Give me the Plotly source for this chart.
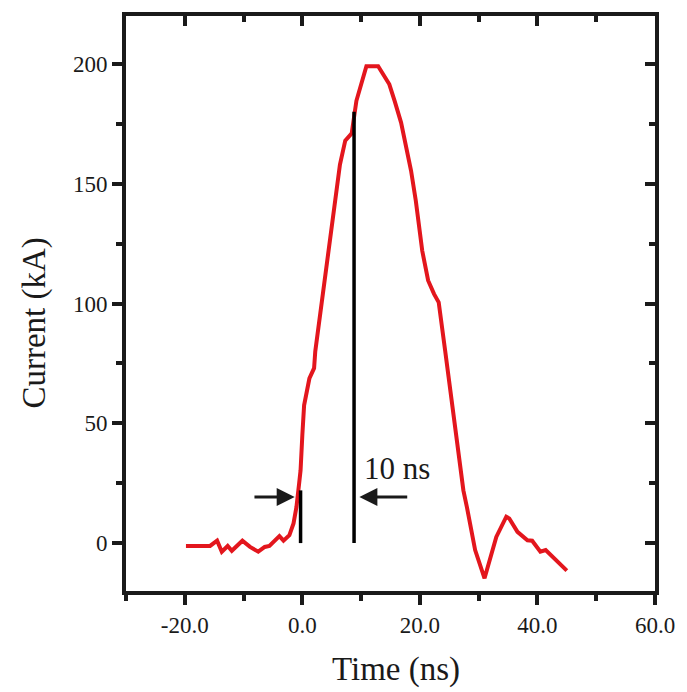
import plotly.graph_objects as go

# --- data ---
time_ns = [-19.8, -15.7, -14.5, -13.7, -12.7, -12.0, -10.2, -8.9, -7.5, -6.4, -5.6,
           -3.9, -3.2, -2.2, -1.5, -1.0, -0.55, -0.3, 0.0, 0.3, 1.2, 2.0, 2.2,
           6.4, 7.3, 8.4, 9.2, 10.9, 12.9, 14.8, 15.7, 16.8, 18.5, 19.3, 20.4,
           21.4, 22.4, 23.2, 24.3, 27.4, 28.0, 29.4, 31.0, 33.0, 34.7, 35.2,
           36.6, 38.3, 39.1, 39.7, 40.5, 41.4, 45.0]
current_kA = [-1.2, -1.2, 1.0, -3.6, -1.2, -3.2, 1.0, -1.6, -3.6, -1.6, -1.2,
              2.9, 1.0, 3.3, 8.2, 15.1, 24.8, 30.4, 45.0, 57.5, 68.7, 73.0, 80.0,
              158.0, 168.0, 171.0, 184.6, 199.0, 199.0, 191.5, 184.6, 175.5, 155.4, 143.0, 122.0,
              109.6, 104.0, 100.5, 80.3, 22.0, 15.0, -2.9, -14.7, 2.6, 11.0, 10.3,
              4.7, 1.2, 1.0, -1.2, -3.6, -2.9, -11.5]

marker_t = [-0.3, 8.8]          # vertical markers (ns)
marker_top = [22.0, 180.0]      # marker heights (kA)
marker_bottom = [0.0, 0.0]

arrow_level = 19.2
left_arrow = (-8.4, -1.3)       # tail, head (ns)
right_arrow = (18.1, 9.7)
label_text = "10 ns"
label_pos = (10.2, 31.0)

x_range = [-30, 60]
y_range = [-20, 220]
x_tick_vals = [-20, 0, 20, 40, 60]
x_tick_text = ["-20.0", "0.0", "20.0", "40.0", "60.0"]
y_tick_vals = [0, 50, 100, 150, 200]
y_tick_text = ["0", "50", "100", "150", "200"]

FONT = "Liberation Serif"
INK = "#1a1a1a"
RED = "#e3161d"

fig = go.Figure()
fig.add_trace(go.Scatter(x=time_ns, y=current_kA, mode="lines",
                         line=dict(color=RED, width=4), showlegend=False))
for t, lo, hi in zip(marker_t, marker_bottom, marker_top):
    fig.add_trace(go.Scatter(x=[t, t], y=[lo, hi], mode="lines",
                             line=dict(color="black", width=3.5), showlegend=False))
# dummy trace for mirrored (inside-tick) axes
fig.add_trace(go.Scatter(x=[None], y=[None], xaxis="x2", yaxis="y2",
                         showlegend=False, hoverinfo="skip"))

for tail, head in (left_arrow, right_arrow):
    fig.add_annotation(x=head, y=arrow_level, ax=tail, ay=arrow_level,
                       xref="x", yref="y", axref="x", ayref="y",
                       showarrow=True, arrowhead=2, arrowsize=1.2, arrowwidth=3,
                       arrowcolor=INK, text="")
fig.add_annotation(x=label_pos[0], y=label_pos[1], xref="x", yref="y",
                   text=label_text, showarrow=False, xanchor="left", yanchor="middle",
                   font=dict(family=FONT, size=31, color=INK))
fig.add_annotation(x=0.51, y=-0.137, xref="paper", yref="paper", text="Time (ns)",
                   showarrow=False, xanchor="center", yanchor="middle",
                   font=dict(family=FONT, size=33, color=INK))
fig.add_annotation(x=-0.173, y=0.466, xref="paper", yref="paper", text="Current (kA)",
                   showarrow=False, xanchor="center", yanchor="middle", textangle=-90,
                   font=dict(family=FONT, size=33, color=INK))

axis_common = dict(showgrid=False, zeroline=False, showline=True, linecolor=INK,
                   linewidth=4, tickcolor=INK, tickwidth=4,
                   tickfont=dict(family=FONT, size=23, color=INK))

fig.update_layout(
    width=687, height=692,
    margin=dict(l=126, r=24, t=14, b=101),
    paper_bgcolor="white", plot_bgcolor="white",
    xaxis=dict(range=x_range, tickmode="array", tickvals=x_tick_vals, ticktext=x_tick_text,
               ticks="outside", ticklen=10, mirror=True,
               minor=dict(tickmode="linear", tick0=0, dtick=10, ticks="outside",
                          ticklen=6, tickwidth=4, tickcolor=INK),
               **axis_common),
    yaxis=dict(range=y_range, tickmode="array", tickvals=y_tick_vals, ticktext=y_tick_text,
               ticks="outside", ticklen=10, mirror=True,
               minor=dict(tickmode="linear", tick0=0, dtick=25, ticks="outside",
                          ticklen=6, tickwidth=4, tickcolor=INK),
               **axis_common),
    xaxis2=dict(range=x_range, overlaying="x", side="top", anchor="y2",
                tickmode="array", tickvals=x_tick_vals, showticklabels=False,
                ticks="inside", ticklen=10, showgrid=False, zeroline=False, showline=False,
                tickcolor=INK, tickwidth=4,
                minor=dict(tickmode="linear", tick0=0, dtick=10, ticks="inside",
                           ticklen=6, tickwidth=4, tickcolor=INK)),
    yaxis2=dict(range=y_range, overlaying="y", side="right", anchor="x2",
                tickmode="array", tickvals=y_tick_vals, showticklabels=False,
                ticks="inside", ticklen=10, showgrid=False, zeroline=False, showline=False,
                tickcolor=INK, tickwidth=4,
                minor=dict(tickmode="linear", tick0=0, dtick=25, ticks="inside",
                           ticklen=6, tickwidth=4, tickcolor=INK)),
)

fig.write_html("out.html")
